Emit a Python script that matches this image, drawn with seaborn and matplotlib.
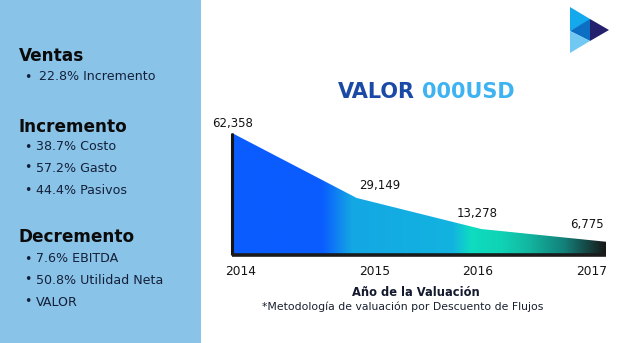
import numpy as np
import pandas as pd
import matplotlib
matplotlib.use("Agg")
import matplotlib.pyplot as plt
import seaborn as sns
from matplotlib.colors import LinearSegmentedColormap
from matplotlib.patches import Rectangle, Polygon
from matplotlib.transforms import ScaledTranslation

# ---------------- data ----------------
years = ["2014", "2015", "2016", "2017"]
valores = [62358, 29149, 13278, 6775]
value_labels = ["62,358", "29,149", "13,278", "6,775"]

panel_headers = ["Ventas", "Incremento", "Decremento"]
ventas_items = ["22.8% Incremento"]
incremento_items = ["38.7% Costo", "57.2% Gasto", "44.4% Pasivos"]
decremento_items = ["7.6% EBITDA", "50.8% Utilidad Neta", "VALOR"]

title_a = "VALOR "
title_b = "000USD"
xlabel = "Año de la Valuación"
note = "*Metodología de valuación por Descuento de Flujos"

# --------------- figure ----------------
sns.set_theme(style="white")
plt.rcParams["font.family"] = ["DejaVu Sans"]

W, H = 629, 343
fig = plt.figure(figsize=(W / 100, H / 100), dpi=100)
fig.patch.set_facecolor("white")

def fx(px):
    return px / W

def fy(py):
    return 1 - py / H

# left panel
fig.patches.append(Rectangle((0, 0), fx(201), 1, transform=fig.transFigure,
                             facecolor="#89c3e7", edgecolor="none", zorder=0))

hdr_kw = dict(fontsize=12.2, fontweight="bold", color="#0b0b0b", va="center", ha="left")
item_kw = dict(fontsize=9.1, color="#14203a", va="center", ha="left")

fig.text(fx(19), fy(56), panel_headers[0], **hdr_kw)
for i, t in enumerate(ventas_items):
    fig.text(fx(24), fy(77), "•", **item_kw)
    fig.text(fx(39), fy(77), t, **item_kw)

fig.text(fx(19), fy(127), panel_headers[1], **hdr_kw)
for t, yy in zip(incremento_items, [147, 168, 190]):
    fig.text(fx(24), fy(yy), "•", **item_kw)
    fig.text(fx(36), fy(yy), t, **item_kw)

fig.text(fx(19), fy(237), panel_headers[2], **hdr_kw)
for t, yy in zip(decremento_items, [259, 280, 302]):
    fig.text(fx(24), fy(yy), "•", **item_kw)
    fig.text(fx(36), fy(yy), t, **item_kw)

# logo (decorative)
def tri(pts, c):
    fig.patches.append(Polygon([(fx(a), fy(b)) for a, b in pts], closed=True,
                               transform=fig.transFigure, facecolor=c,
                               edgecolor="none", zorder=1))
tri([(570, 7), (590, 19), (590, 20), (570, 31)], "#14a9ec")
tri([(570, 31), (590, 19), (590, 41)], "#0d6fc4")
tri([(590, 19), (609, 30), (590, 41)], "#24206e")
tri([(570, 31), (590, 41), (570, 53)], "#70c8f3")

# title
fig.text(fx(415), fy(92), title_a.strip(), fontsize=15, fontweight="bold",
         color="#1a4aa6", ha="right", va="center")
fig.text(fx(422), fy(92), title_b, fontsize=15, fontweight="bold",
         color="#3db3f1", ha="left", va="center")

# --------------- chart -----------------
x0, x1, yb, ytop = 232, 606, 255, 133
ax = fig.add_axes([fx(x0), fy(yb), (x1 - x0) / W, (yb - ytop) / H])
ax.set_facecolor("none")

df = pd.DataFrame({"pos": np.arange(len(years)), "valor": valores})
sns.lineplot(data=df, x="pos", y="valor", ax=ax, lw=0, legend=False)

ax.set_xlim(0, len(years) - 1)
ax.set_ylim(0, max(valores))

poly = ax.fill_between(df["pos"], df["valor"], 0, facecolor="none", edgecolor="none")
cmap = LinearSegmentedColormap.from_list("g", [
    (0.00, "#0a5cff"),
    (0.24, "#0a5cff"),
    (0.32, "#14a7e4"),
    (0.59, "#12b3e0"),
    (0.64, "#0edcc0"),
    (0.72, "#10d3b5"),
    (0.79, "#12b9a2"),
    (0.89, "#13807a"),
    (1.00, "#181818"),
])
grad = np.linspace(0, 1, 512).reshape(1, -1)
img = ax.imshow(grad, extent=[0, len(years) - 1, 0, max(valores)], aspect="auto",
                cmap=cmap, origin="lower", zorder=1)
img.set_clip_path(poly.get_paths()[0], transform=ax.transData)

# dark edges
ax.vlines(df["pos"].iloc[0], 0, df["valor"].iloc[0], color="#151515", lw=2.2, zorder=3,
          clip_on=False)
ax.hlines(0, df["pos"].iloc[0], df["pos"].iloc[-1], color="#1b1b1b", lw=2.6, zorder=3,
          clip_on=False)

# value labels
offsets = [(1, 10), (23, 12), (-4, 16), (-19, 17)]
for p, v, lab, (dx, dy) in zip(df["pos"], df["valor"], value_labels, offsets):
    ax.annotate(lab, (p, v), xytext=(dx, dy), textcoords="offset pixels",
                ha="center", va="center", fontsize=8.5, color="#141414",
                annotation_clip=False)

# ticks
ax.set_xticks(df["pos"], years)
ax.set_yticks([])
ax.tick_params(axis="x", length=0, pad=7, labelsize=8.8, labelcolor="#141414")
tick_shifts = [9, 18, -4, -14]
for lbl, s in zip(ax.get_xticklabels(), tick_shifts):
    lbl.set_transform(lbl.get_transform() + ScaledTranslation(s / 100, 0, fig.dpi_scale_trans))
for sp in ax.spines.values():
    sp.set_visible(False)
ax.set_xlabel("")
ax.set_ylabel("")

fig.text(fx(416), fy(293), xlabel, fontsize=8.3, fontweight="bold", color="#141a2e",
         ha="center", va="center")
fig.text(fx(403), fy(307), note, fontsize=7.8, color="#1a2030", ha="center", va="center")

fig.savefig("out.png", dpi=100)
